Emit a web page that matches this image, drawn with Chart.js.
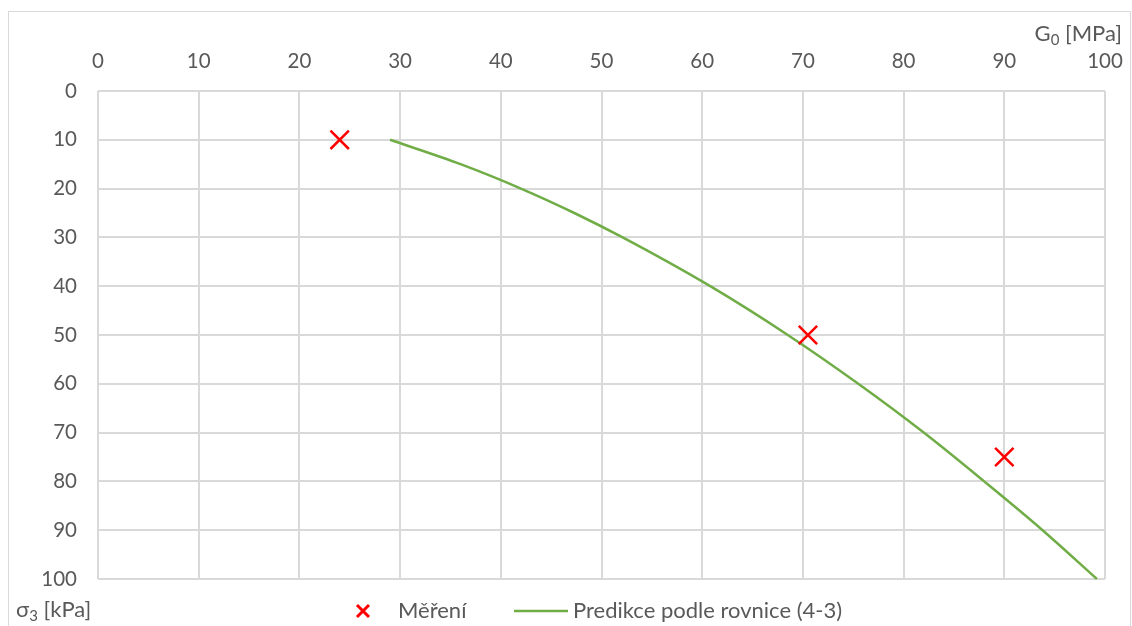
<!DOCTYPE html>
<html>
<head>
<meta charset="utf-8">
<script src="https://cdn.jsdelivr.net/npm/chart.js@4.4.0/dist/chart.umd.min.js"></script>
<style>
  body { margin: 0; background: #fff; overflow: hidden; }
  #frame { position: absolute; left: 8px; top: 11px; width: 1121px; height: 650px; border: 1.5px solid #d9d9d9; }
  #wrap { position: absolute; left: 0; top: 0; width: 1132px; height: 626px; }
</style>
</head>
<body>
<div id="frame"></div>
<div id="wrap"><canvas id="chart" width="1132" height="626"></canvas></div>
<script>
// measured points (sigma3 -> G0)
var sigmaMeasured = [10, 50, 75];
var g0Measured = [24, 70.5, 90];

// prediction curve
var sigmaPredicted = [10, 15, 20, 25, 30, 40, 50, 60, 70, 80, 90, 100];
var g0Predicted = [29.0, 36.0, 42.0, 47.3, 52.1, 60.8, 68.5, 75.5, 82.0, 88.0, 93.8, 99.2];

var xTicks = [0, 10, 20, 30, 40, 50, 60, 70, 80, 90, 100];
var yTicks = [0, 10, 20, 30, 40, 50, 60, 70, 80, 90, 100];
var xTitle = ['G', '0', ' [MPa]'];
var yTitle = ['σ', '3', ' [kPa]'];
var legendLabels = ['Měření', 'Predikce podle rovnice (4-3)'];

var fontFamily = 'Lato, "Open Sans", sans-serif';
var textColor = '#595959';
var gridColor = '#d9d9d9';

function toPoints(xs, ys) {
  return xs.map(function (x, i) { return { x: x, y: ys[i] }; });
}

// draws "G0 [MPa]" style text with a subscript
function drawSubText(ctx, parts, x, y, align) {
  ctx.textBaseline = 'alphabetic';
  ctx.textAlign = 'left';
  ctx.font = '22px ' + fontFamily;
  var w0 = ctx.measureText(parts[0]).width;
  var w2 = ctx.measureText(parts[2]).width;
  ctx.font = '15px ' + fontFamily;
  var w1 = ctx.measureText(parts[1]).width;
  var sx = align === 'right' ? x - (w0 + w1 + w2) : x;
  ctx.fillStyle = textColor;
  ctx.font = '22px ' + fontFamily;
  ctx.fillText(parts[0], sx, y);
  ctx.fillText(parts[2], sx + w0 + w1, y);
  ctx.font = '15px ' + fontFamily;
  ctx.fillText(parts[1], sx + w0, y + 4);
}

var extras = {
  id: 'extras',
  afterDraw: function (chart) {
    var ctx = chart.ctx;
    ctx.save();
    drawSubText(ctx, xTitle, 1122, 41, 'right');
    drawSubText(ctx, yTitle, 16, 617, 'left');

    // legend
    var ds = chart.data.datasets;
    var ly = 611;
    ctx.strokeStyle = ds[0].borderColor;
    ctx.lineWidth = 3;
    ctx.beginPath();
    ctx.moveTo(357, ly - 6); ctx.lineTo(369, ly + 6);
    ctx.moveTo(369, ly - 6); ctx.lineTo(357, ly + 6);
    ctx.stroke();
    ctx.font = '22px ' + fontFamily;
    ctx.fillStyle = textColor;
    ctx.textBaseline = 'alphabetic';
    ctx.textAlign = 'left';
    ctx.fillText(ds[0].label, 398, 618);

    ctx.strokeStyle = ds[1].borderColor;
    ctx.lineWidth = 2.5;
    ctx.beginPath();
    ctx.moveTo(514, ly); ctx.lineTo(568, ly);
    ctx.stroke();
    ctx.fillText(ds[1].label, 573, 618);
    ctx.restore();
  }
};

var ctx = document.getElementById('chart');
var chart = new Chart(ctx, {
  type: 'scatter',
  data: {
    datasets: [
      {
        label: legendLabels[0],
        data: toPoints(g0Measured, sigmaMeasured),
        pointStyle: 'crossRot',
        pointRadius: 13,
        pointBorderWidth: 2.5,
        borderColor: '#ff0000',
        backgroundColor: '#ff0000',
        showLine: false,
        order: 1
      },
      {
        label: legendLabels[1],
        data: toPoints(g0Predicted, sigmaPredicted),
        showLine: true,
        borderColor: '#70ad47',
        backgroundColor: '#70ad47',
        borderWidth: 2.5,
        pointRadius: 0,
        cubicInterpolationMode: 'monotone',
        clip: false,
        order: 2
      }
    ]
  },
  options: {
    responsive: false,
    animation: false,
    devicePixelRatio: 1,
    layout: { padding: { left: 0, top: 0, right: 27, bottom: 47 } },
    plugins: {
      legend: { display: false },
      tooltip: { enabled: false }
    },
    scales: {
      x: {
        type: 'linear',
        position: 'top',
        min: 0,
        max: 100,
        afterFit: function (s) { s.height = 91; s.paddingLeft = 0; s.paddingRight = 0; },
        afterBuildTicks: function (s) { s.ticks = xTicks.map(function (v) { return { value: v }; }); },
        ticks: { color: textColor, font: { family: fontFamily, size: 20.5 }, padding: 17, maxRotation: 0 },
        grid: { color: gridColor, lineWidth: 2, drawTicks: false },
        border: { display: false }
      },
      y: {
        type: 'linear',
        reverse: true,
        min: 0,
        max: 100,
        afterFit: function (s) { s.width = 98; s.paddingTop = 0; s.paddingBottom = 0; },
        afterBuildTicks: function (s) { s.ticks = yTicks.map(function (v) { return { value: v }; }); },
        ticks: { color: textColor, font: { family: fontFamily, size: 20.5 }, padding: 21 },
        grid: { color: gridColor, lineWidth: 2, drawTicks: false },
        border: { display: false }
      }
    }
  },
  plugins: [extras]
});
</script>
</body>
</html>
